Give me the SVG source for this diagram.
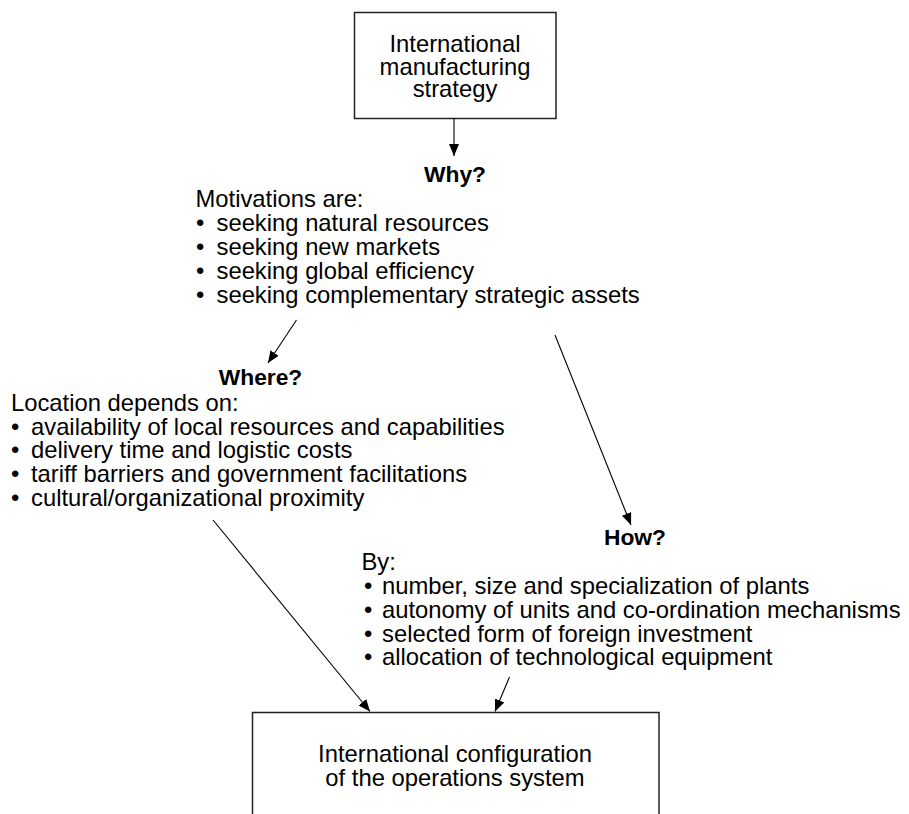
<svg xmlns="http://www.w3.org/2000/svg" width="909" height="814" viewBox="0 0 909 814">
<defs>
<marker id="arr" viewBox="0 0 12 10" refX="12" refY="5" markerWidth="12" markerHeight="10" markerUnits="userSpaceOnUse" orient="auto">
<path d="M0,0 L12,5 L0,10 z" fill="#000"/>
</marker>
<style>
.box{fill:#fff;stroke:#222;stroke-width:1.5}
.t{font-family:"Liberation Sans",Arial,Helvetica,sans-serif;font-size:23.8px;fill:#000}
.c{text-anchor:middle}
.b{font-family:"Liberation Sans",Arial,Helvetica,sans-serif;font-size:22.8px;font-weight:bold;fill:#000;text-anchor:middle}
.ln{stroke:#000;stroke-width:1.1;fill:none;marker-end:url(#arr)}
</style>
</defs>
<rect width="909" height="814" fill="#fff"/>

<g id="strategy">
<rect class="box" x="354.5" y="12.5" width="201.5" height="106"/>
<text class="t c" x="455" y="52">International</text>
<text class="t c" x="455" y="74.5">manufacturing</text>
<text class="t c" x="455" y="97">strategy</text>
</g>

<g id="why">
<text class="b" x="455" y="182">Why?</text>
<text class="t" x="195.5" y="207">Motivations are:</text>
<text class="t"><tspan x="196" y="231">•</tspan><tspan x="216.5" y="231">seeking natural resources</tspan></text>
<text class="t"><tspan x="196" y="255">•</tspan><tspan x="216.5" y="255">seeking new markets</tspan></text>
<text class="t"><tspan x="196" y="279">•</tspan><tspan x="216.5" y="279">seeking global efficiency</tspan></text>
<text class="t"><tspan x="196" y="303">•</tspan><tspan x="216.5" y="303">seeking complementary strategic assets</tspan></text>
</g>

<g id="where">
<text class="b" x="260.5" y="385">Where?</text>
<text class="t" x="11" y="411">Location depends on:</text>
<text class="t"><tspan x="11" y="434.5">•</tspan><tspan x="31" y="434.5">availability of local resources and capabilities</tspan></text>
<text class="t"><tspan x="11" y="458">•</tspan><tspan x="31" y="458">delivery time and logistic costs</tspan></text>
<text class="t"><tspan x="11" y="482">•</tspan><tspan x="31" y="482">tariff barriers and government facilitations</tspan></text>
<text class="t"><tspan x="11" y="506">•</tspan><tspan x="31" y="506">cultural/organizational proximity</tspan></text>
</g>

<g id="how">
<text class="b" x="635" y="545">How?</text>
<text class="t" x="361.5" y="570">By:</text>
<text class="t"><tspan x="364" y="594">•</tspan><tspan x="382" y="594">number, size and specialization of plants</tspan></text>
<text class="t"><tspan x="364" y="617.5">•</tspan><tspan x="382" y="617.5">autonomy of units and co-ordination mechanisms</tspan></text>
<text class="t"><tspan x="364" y="641.5">•</tspan><tspan x="382" y="641.5">selected form of foreign investment</tspan></text>
<text class="t"><tspan x="364" y="665">•</tspan><tspan x="382" y="665">allocation of technological equipment</tspan></text>
</g>

<g id="configuration">
<rect class="box" x="252.5" y="712.5" width="406.5" height="130"/>
<text class="t c" x="455" y="762">International configuration</text>
<text class="t c" x="455" y="786">of the operations system</text>
</g>

<g id="connectors">
<line class="ln" x1="454" y1="118.5" x2="454" y2="156"/>
<line class="ln" x1="296.5" y1="320" x2="268" y2="363"/>
<line class="ln" x1="555" y1="335" x2="631" y2="525"/>
<line class="ln" x1="213" y1="520" x2="370" y2="711.5"/>
<line class="ln" x1="509.5" y1="677" x2="495" y2="711.5"/>
</g>
</svg>
